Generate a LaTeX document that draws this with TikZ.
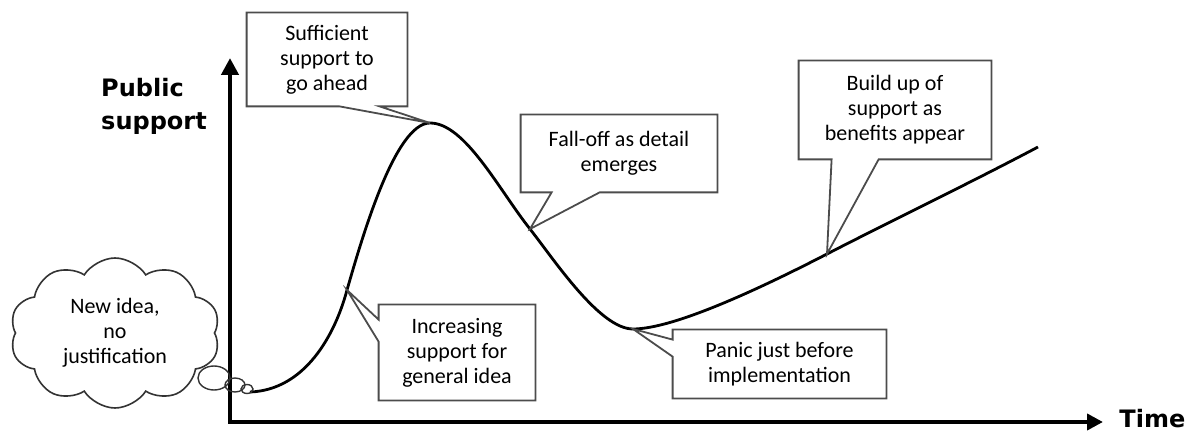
\documentclass[tikz,border=0pt]{standalone}
\usepackage{fontspec}
\setmainfont{Carlito}
\newfontfamily\labelfont{DejaVu Sans}
\usetikzlibrary{shapes.geometric, shapes.symbols, arrows.meta, positioning, calc}

\begin{document}
\begin{tikzpicture}[
  x=0.5pt, y=-0.5pt,
  every node/.style={font=\fontsize{11}{12.5}\selectfont},
  note/.style={rectangle, align=center, inner sep=0pt},
  balloon/.style={draw=black!70, line width=0.9pt, line join=miter},
  thought/.style={cloud, cloud puffs=10, cloud puff arc=115, cloud ignores aspect, draw=black!80, fill=white, line width=0.8pt, align=center, inner sep=0pt, minimum width=105pt, minimum height=75pt},
  bubble/.style={ellipse, draw=black!80, line width=0.7pt, inner sep=0pt},
  axislabel/.style={inner sep=0pt, font=\labelfont\bfseries\fontsize{12}{16.5}\selectfont},
  axis/.style={line width=2.2pt, line join=miter, {Triangle[length=8.5pt,width=8.5pt]}-{Triangle[length=8pt,width=8pt]}},
  curve/.style={line width=1.4pt, line join=round},
]
\useasboundingbox (0,0) rectangle (1196,433);

%% Axes
\coordinate (origin) at (230,422);
\coordinate (ytop)   at (230,58);
\coordinate (xend)   at (1103,422);
\draw[axis] (ytop) -- (origin) -- (xend);
\node[axislabel, right=8pt of xend, yshift=1.5pt] (time) {Time};
\node[axislabel, align=left] (public) at (154,106) {Public\\support};

%% Points on the curve
\coordinate (start) at (250,392);
\coordinate (rise)  at (347,290);
\coordinate (peak)  at (430,123);
\coordinate (drop)  at (530,229);
\coordinate (dip)   at (633,329);
\coordinate (climb) at (827,254);
\coordinate (stop)  at (1038,147);

%% Curve
\draw[curve] (start) .. controls (305,390) and (335,335) .. (rise)
  .. controls (362,238) and (395,123) .. (peak)
  .. controls (465,123) and (499,190) .. (drop)
  .. controls (555,261) and (600,329) .. (dip)
  .. controls (675,329) and (765,286) .. (climb)
  .. controls (889,222) and (970,183) .. (stop);

%% Callouts
\node[note, minimum width=80pt, minimum height=46.5pt] (suff) at (327,59.5) {Sufficient\\support to\\go ahead};
\node[note, minimum width=98pt, minimum height=38.5pt] (falloff) at (619,153.5) {Fall-off as detail\\emerges};
\node[note, minimum width=96pt, minimum height=49pt] (buildup) at (895,110) {Build up of\\support as\\benefits appear};
\node[note, minimum width=78pt, minimum height=47.5pt] (incr) at (457,352.5) {Increasing\\support for\\general idea};
\node[note, minimum width=106.5pt, minimum height=34pt] (panic) at (779.5,364) {Panic just before\\implementation};

\draw[balloon] (suff.north west) -- (suff.north east) -- (suff.south east)
  -- ($(suff.south west)+(133,0)$) -- (peak) -- ($(suff.south west)+(93,0)$) -- (suff.south west) -- cycle;
\draw[balloon] (falloff.north west) -- (falloff.north east) -- (falloff.south east)
  -- ($(falloff.south west)+(79,0)$) -- (drop) -- ($(falloff.south west)+(31,0)$) -- (falloff.south west) -- cycle;
\draw[balloon] (buildup.north west) -- (buildup.north east) -- (buildup.south east)
  -- ($(buildup.south west)+(80,0)$) -- (climb) -- ($(buildup.south west)+(33,0)$) -- (buildup.south west) -- cycle;
\draw[balloon] (incr.north west) -- (incr.north east) -- (incr.south east) -- (incr.south west)
  -- ($(incr.north west)+(0,37)$) -- (rise) -- ($(incr.north west)+(0,15)$) -- cycle;
\draw[balloon] (panic.north west) -- (panic.north east) -- (panic.south east) -- (panic.south west)
  -- ($(panic.north west)+(0,27)$) -- (dip) -- ($(panic.north west)+(0,10)$) -- cycle;

%% Thought cloud
\node[thought] (idea) at (115,333) {New idea,\\no\\justification};
\node[bubble, minimum width=16pt, minimum height=12pt] (bub1) at (214,378) {};
\node[bubble, minimum width=10pt, minimum height=7pt]  (bub2) at (235,385) {};
\node[bubble, minimum width=6pt, minimum height=4.5pt] (bub3) at (247,389) {};

\end{tikzpicture}
\end{document}
